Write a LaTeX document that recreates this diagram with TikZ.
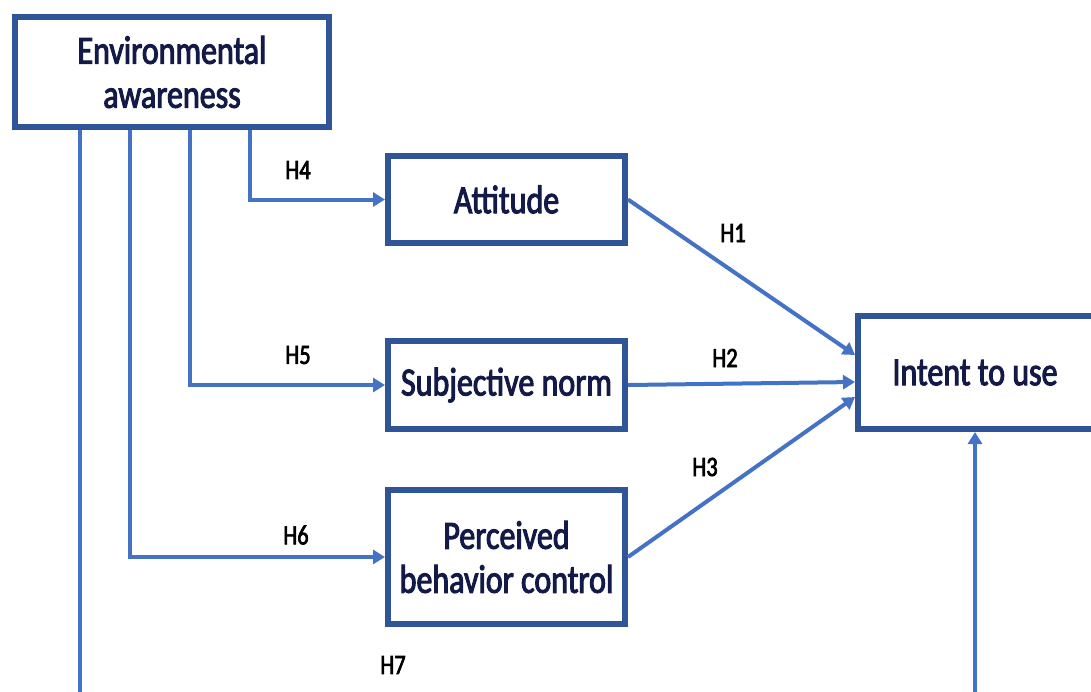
\documentclass[tikz,border=0pt]{standalone}
\usepackage{fontspec}
\setmainfont[FakeStretch=0.8,FakeBold=2.5]{Carlito}
\usetikzlibrary{arrows.meta}

\definecolor{boxblue}{HTML}{2F5597}
\definecolor{linkblue}{HTML}{4472C4}
\definecolor{textnavy}{HTML}{141A48}

\tikzset{
  box/.style={draw=boxblue, line width=3pt, fill=white, inner sep=0pt},
  boxtext/.style={text=textnavy, align=center, inner sep=0pt, font=\fontsize{20}{22}\selectfont},
  link/.style={draw=linkblue, line width=2pt, -{Triangle[width=7pt,length=6pt]}},
  hyp/.style={text=black, font=\fontsize{14}{16}\selectfont}
}

\begin{document}
\begin{tikzpicture}[x=0.5pt, y=-0.5pt]

    \useasboundingbox (0,0) rectangle (1091,691);

    % constructs
    \node[box, boxtext, minimum width=157pt, minimum height=55pt] (aware) at (172,72) {Environmental\\awareness};
    \node[box, boxtext, minimum width=118.5pt, minimum height=43.5pt] (att) at (506.5,199.5) {Attitude};
    \node[box, boxtext, minimum width=118.5pt, minimum height=44pt] (norm) at (506.5,385) {Subjective norm};
    \node[box, boxtext, minimum width=118.5pt, minimum height=67pt] (pbc) at (506.5,557) {Perceived\\behavior control};
    \node[box, minimum width=150pt, minimum height=56.5pt, anchor=west] (intent) at (855,372.5) {};
    \node[boxtext] (intenttext) at (975,372.5) {Intent to use};

    % paths
    \draw[link] ([xshift=119pt]aware.south west) |- (att.west);
    \draw[link] ([xshift=89pt]aware.south west) |- (norm.west);
    \draw[link] ([xshift=59pt]aware.south west) |- (pbc.west);
    \draw[link] ([xshift=34pt]aware.south west) -- ++(0,640) -| (intent.south -| intenttext);

    \draw[link] (att.east) -- ([yshift=8.75pt]intent.west);
    \draw[link] (norm.east) -- ([yshift=-4.75pt]intent.west);
    \draw[link] (pbc.east) -- ([yshift=-12.25pt]intent.west);

    % hypotheses
    \node[hyp] (h1) at (733,233) {H1};
    \node[hyp] (h2) at (725,358) {H2};
    \node[hyp] (h3) at (705,467) {H3};
    \node[hyp] (h4) at (298,170) {H4};
    \node[hyp] (h5) at (298,355) {H5};
    \node[hyp] (h6) at (296,535) {H6};
    \node[hyp] (h7) at (393,665) {H7};

\end{tikzpicture}
\end{document}
